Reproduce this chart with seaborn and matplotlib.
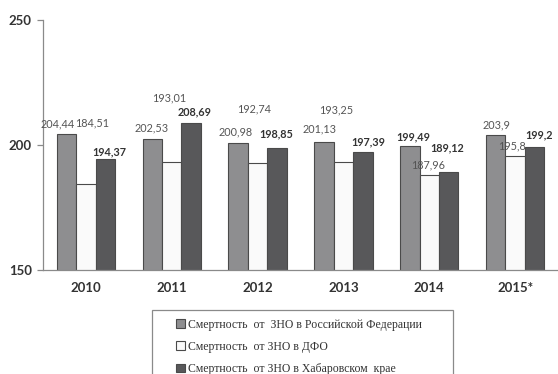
import matplotlib
matplotlib.use("Agg")
import matplotlib.pyplot as plt
from matplotlib.patches import Patch, Rectangle
import seaborn as sns
import pandas as pd

# Mortality from malignant neoplasms, per 100 000 population
years = ["2010", "2011", "2012", "2013", "2014", "2015*"]
series = [
    "Смертность  от  ЗНО в Российской Федерации",
    "Смертность  от ЗНО в ДФО",
    "Смертность  от ЗНО в Хабаровском  крае",
]
russia = [204.44, 202.53, 200.98, 201.13, 199.49, 203.9]
dfo = [184.51, 193.01, 192.74, 193.25, 187.96, 195.8]
khabarovsk = [194.37, 208.69, 198.85, 197.39, 189.12, 199.2]

values = [russia, dfo, khabarovsk]
df = pd.DataFrame(
    [(y, s, v) for s, vals in zip(series, values) for y, v in zip(years, vals)],
    columns=["year", "series", "value"],
)

fills = ["#8e8e90", "#fafafa", "#58585a"]
edge = "#4a4a4a"

# value-label offsets (pixels) from each bar's top centre
offsets = [
    [(-9, 10), (-1, 11), (-3, 11), (-4, 13), (3, 9), (1, 10)],
    [(6, 61), (-3, 65), (-3, 54), (-7, 52), (-1, 10), (-3, 10)],
    [(4, 7), (3, 11), (-1, 14), (5, 10), (-2, 24), (5, 12)],
]
bold_labels = {(0, 4), (2, 0), (2, 1), (2, 2), (2, 3), (2, 4), (2, 5)}

sns.set_theme(style="white")
plt.rcParams["font.family"] = ["Lato", "DejaVu Sans"]

fig = plt.figure(figsize=(5.58, 3.74), dpi=100)
ax = fig.add_axes([43 / 558, 1 - 270 / 374, 1 - 43 / 558, 250 / 374])

sns.barplot(
    data=df, x="year", y="value", hue="series", hue_order=series,
    palette=fills, width=0.68, edgecolor=edge, linewidth=0.8,
    saturation=1, legend=False, ax=ax,
)

ax.set_ylim(150, 250)
ax.set_xlim(-0.5, len(years) - 0.5)
ax.set_yticks([150, 200, 250])
ax.set_xlabel("")
ax.set_ylabel("")

for side in ("top", "right"):
    ax.spines[side].set_visible(False)
for side in ("left", "bottom"):
    ax.spines[side].set_color("#8a8a8a")
    ax.spines[side].set_linewidth(0.9)

ax.set_xticks([i - 0.5 for i in range(len(years) + 1)], minor=True)
ax.tick_params(axis="x", which="minor", length=4, color="#8a8a8a", width=0.9, direction="out")
ax.tick_params(axis="x", which="major", length=0, pad=9)
ax.tick_params(axis="y", length=4, color="#8a8a8a", width=0.9, direction="out", pad=4)
ax.tick_params(left=True, bottom=True)
for lab in ax.get_xticklabels() + ax.get_yticklabels():
    lab.set_fontweight("bold")
    lab.set_fontsize(9.5)
    lab.set_color("#333333")

# value labels
bars = ax.patches
n = len(years)
for si in range(len(series)):
    for yi in range(n):
        bar = bars[si * n + yi]
        v = values[si][yi]
        dx, dy = offsets[si][yi]
        bold = (si, yi) in bold_labels
        ax.annotate(
            f"{v:g}".replace(".", ","),
            (bar.get_x() + bar.get_width() / 2, bar.get_height()),
            xytext=(dx, dy), textcoords="offset pixels",
            ha="center", va="center", fontsize=7.8,
            fontweight="bold" if bold else "normal",
            color="#333333" if bold else "#555555",
            annotation_clip=False,
        )

# legend box and entries
fig.patches.append(Rectangle(
    (152 / 558, 1 - 400 / 374), (453 - 152) / 558, 90 / 374,
    transform=fig.transFigure, fill=False, edgecolor="#8a8a8a", linewidth=0.9,
))
handles = [Patch(facecolor=c, edgecolor=edge, linewidth=0.8) for c in fills]
fig.legend(
    handles, series, loc="upper left",
    bbox_to_anchor=(170 / 558, 1 - 313 / 374), frameon=False,
    prop={"family": "Liberation Serif", "size": 8.5},
    handlelength=0.75, handleheight=0.75, handletextpad=0.3,
    labelspacing=0.85, borderpad=0, labelcolor="#333333",
)

fig.savefig("out.png", dpi=100)
